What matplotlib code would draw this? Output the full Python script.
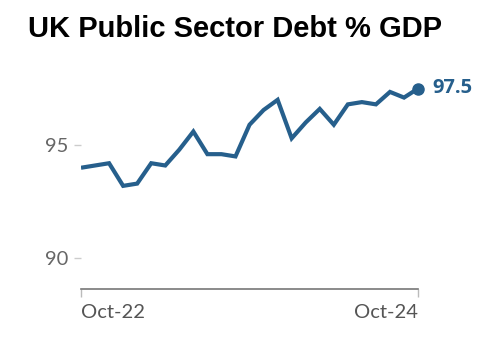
import numpy as np
from matplotlib import pyplot as plt

# UK public sector net debt, % of GDP, monthly Oct-22 .. Oct-24
months = ['Oct-22', 'Nov-22', 'Dec-22', 'Jan-23', 'Feb-23', 'Mar-23', 'Apr-23',
          'May-23', 'Jun-23', 'Jul-23', 'Aug-23', 'Sep-23', 'Oct-23', 'Nov-23',
          'Dec-23', 'Jan-24', 'Feb-24', 'Mar-24', 'Apr-24', 'May-24', 'Jun-24',
          'Jul-24', 'Aug-24', 'Sep-24', 'Oct-24']
debt = [94.0, 94.1, 94.2, 93.2, 93.3, 94.2, 94.1, 94.8, 95.6, 94.6, 94.6, 94.5,
        95.9, 96.55, 97.0, 95.3, 96.0, 96.6, 95.9, 96.8, 96.9, 96.8, 97.35,
        97.1, 97.5]
yticks = [90, 95]

blue = '#265f8c'

fig = plt.figure(figsize=(4.85, 3.59), dpi=100)
ax = fig.add_axes([0.167, 0.196, 0.695, 0.623])

x = np.arange(len(months))
ax.plot(x, debt, color=blue, lw=3, solid_joinstyle='miter', solid_capstyle='butt')
ax.plot(x[-1], debt[-1], 'o', color=blue, ms=8, clip_on=False)
ax.annotate(f'{debt[-1]:.1f}', (x[-1], debt[-1]), xytext=(10, 0.5),
            textcoords='offset points', va='center', ha='left',
            fontsize=14.5, fontweight='bold', color=blue, family='Open Sans')

ax.set_xlim(0, len(months) - 1)
ax.set_ylim(88.66, 98.54)

ax.set_yticks(yticks)
ax.set_yticklabels([str(v) for v in yticks], family='Lato', fontsize=14.5, color='#666666')
ax.tick_params(axis='y', length=5, width=1, color='#cccccc', pad=4)

ax.set_xticks([0, len(months) - 1])
labs = ax.set_xticklabels([months[0], months[-1]], family='Lato', fontsize=14.5, color='#555555')
labs[0].set_ha('left')
labs[1].set_ha('right')
ax.tick_params(axis='x', length=6, width=1, color='#bbbbbb', pad=5)

for s in ['top', 'right', 'left']:
    ax.spines[s].set_visible(False)
ax.spines['bottom'].set_color('#777777')
ax.spines['bottom'].set_linewidth(1.2)

fig.text(0.057, 0.92, 'UK Public Sector Debt % GDP', fontsize=21, fontweight='bold',
         family='Liberation Sans', va='center', ha='left')

plt.savefig('out.png', dpi=100)
